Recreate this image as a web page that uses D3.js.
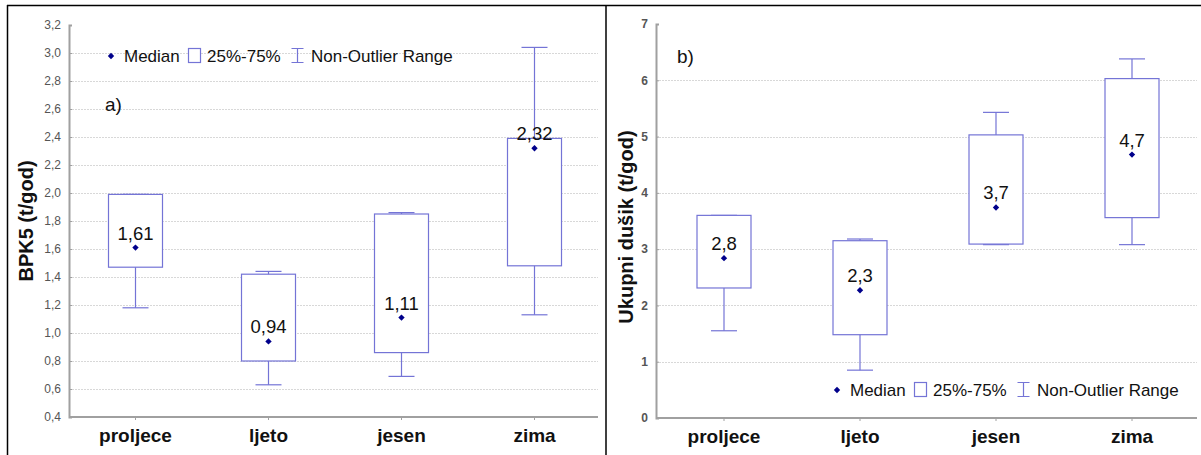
<!DOCTYPE html>
<html lang="hr">
<head>
<meta charset="UTF-8">
<title>BPK5 i ukupni dušik po sezonama</title>
<script src="https://d3js.org/d3.v7.min.js"></script>
<style>
  body { margin: 0; background: #fff; }
  svg { display: block; font-family: "Liberation Sans", Arial, sans-serif; }
</style>
</head>
<body>
<div id="chart"></div>
<script>
// categories
const seasons = ["proljece", "ljeto", "jesen", "zima"];

// a) BPK5 (t/god)
const bpkMin = [1.18, 0.63, 0.69, 1.13];
const bpkQ1  = [1.47, 0.80, 0.86, 1.48];
const bpkMed = [1.61, 0.94, 1.11, 2.32];
const bpkQ3  = [1.99, 1.42, 1.85, 2.39];
const bpkMax = [1.99, 1.44, 1.86, 3.04];
const bpkLabels = ["1,61", "0,94", "1,11", "2,32"];
const bpkTicks = [0.4, 0.6, 0.8, 1.0, 1.2, 1.4, 1.6, 1.8, 2.0, 2.2, 2.4, 2.6, 2.8, 3.0, 3.2];

// b) Ukupni dušik (t/god)
const nMin = [1.55, 0.85, 3.08, 3.08];
const nQ1  = [2.31, 1.48, 3.09, 3.56];
const nMed = [2.84, 2.27, 3.74, 4.68];
const nQ3  = [3.60, 3.15, 5.03, 6.03];
const nMax = [3.60, 3.18, 5.43, 6.38];
const nLabels = ["2,8", "2,3", "3,7", "4,7"];
const nTicks = [0, 1, 2, 3, 4, 5, 6, 7];

const legendItems = ["Median", "25%-75%", "Non-Outlier Range"];

const W = 1201, H = 455;
const boxColor = "#7474d6";
const dotColor = "#00008b";

const svg = d3.select("#chart").append("svg")
  .attr("width", W).attr("height", H);

// outer frame lines
svg.append("line").attr("x1", 7).attr("x2", W).attr("y1", 5.5).attr("y2", 5.5)
  .attr("stroke", "#000").attr("stroke-width", 1.5);
svg.append("line").attr("x1", 7.5).attr("x2", 7.5).attr("y1", 5).attr("y2", H)
  .attr("stroke", "#000").attr("stroke-width", 1.5);
svg.append("line").attr("x1", 606).attr("x2", 606).attr("y1", 5).attr("y2", H)
  .attr("stroke", "#000").attr("stroke-width", 1.5);

function drawPanel(cfg) {
  const g = svg.append("g");
  const x = d3.scaleBand().domain(seasons).range([cfg.x0, cfg.x1]);
  const y = d3.scaleLinear().domain(cfg.domain).range([cfg.yBottom, cfg.yTop]);

  // gridlines
  g.append("g").selectAll("line")
    .data(cfg.ticks.slice(1, cfg.ticks.length - 1))
    .join("line")
    .attr("x1", cfg.x0).attr("x2", cfg.x1 - 3)
    .attr("y1", d => Math.round(y(d)) + 0.5).attr("y2", d => Math.round(y(d)) + 0.5)
    .attr("stroke", "#d8d8d8").attr("stroke-dasharray", "2,1");

  // y axis
  const ya = g.append("g").attr("transform", `translate(${cfg.x0},0)`)
    .call(d3.axisLeft(y).tickValues(cfg.ticks).tickFormat(cfg.fmt).tickSize(-3).tickPadding(8));
  ya.select(".domain").attr("stroke", "#a0a0a0").attr("stroke-width", 2);
  ya.selectAll(".tick line").attr("stroke", "#a0a0a0");
  ya.selectAll(".tick text").attr("fill", "#555").style("font-size", "12px")
    .style("font-weight", cfg.tickBold ? "bold" : "normal")
    .style("font-family", "'Liberation Sans', Arial, sans-serif");

  // x axis
  const xa = g.append("g").attr("transform", `translate(0,${cfg.yBottom})`)
    .call(d3.axisBottom(x).tickSize(3).tickSizeOuter(0).tickPadding(9));
  xa.select(".domain").attr("stroke", "#a0a0a0").attr("stroke-width", 2)
    .attr("d", `M${cfg.x0},0H${cfg.x1 - 3}`);
  xa.selectAll(".tick line").attr("stroke", "#a0a0a0");
  xa.selectAll(".tick text").attr("fill", "#111").style("font-size", "19px")
    .style("font-weight", "bold")
    .style("font-family", "'Liberation Sans', Arial, sans-serif");

  const cx = d => x(d) + x.bandwidth() / 2;
  const boxW = 54, capW = 26;

  const boxes = g.append("g").selectAll("g")
    .data(seasons.map((s, i) => ({
      s, min: cfg.min[i], q1: cfg.q1[i], med: cfg.med[i], q3: cfg.q3[i], max: cfg.max[i], label: cfg.labels[i]
    })))
    .join("g");

  // whiskers
  boxes.append("line")
    .attr("x1", d => cx(d.s)).attr("x2", d => cx(d.s))
    .attr("y1", d => y(d.max)).attr("y2", d => y(d.min))
    .attr("stroke", boxColor).attr("stroke-width", 1.2);
  boxes.append("line")
    .attr("x1", d => cx(d.s) - capW / 2).attr("x2", d => cx(d.s) + capW / 2)
    .attr("y1", d => y(d.max)).attr("y2", d => y(d.max))
    .attr("stroke", boxColor).attr("stroke-width", 1.2);
  boxes.append("line")
    .attr("x1", d => cx(d.s) - capW / 2).attr("x2", d => cx(d.s) + capW / 2)
    .attr("y1", d => y(d.min)).attr("y2", d => y(d.min))
    .attr("stroke", boxColor).attr("stroke-width", 1.2);

  // boxes
  boxes.append("rect")
    .attr("x", d => cx(d.s) - boxW / 2).attr("width", boxW)
    .attr("y", d => y(d.q3)).attr("height", d => y(d.q1) - y(d.q3))
    .attr("fill", "#fff").attr("stroke", boxColor).attr("stroke-width", 1.2);

  // medians
  boxes.append("path")
    .attr("d", d3.symbol(d3.symbolDiamond2, 26))
    .attr("transform", d => `translate(${cx(d.s)},${y(d.med)})`)
    .attr("fill", dotColor);
  boxes.append("text")
    .attr("x", d => cx(d.s)).attr("y", d => y(d.med) - 8)
    .attr("text-anchor", "middle").attr("fill", "#111")
    .style("font-size", "18.5px")
    .text(d => d.label);

  // panel letter
  g.append("text").attr("x", cfg.letterX).attr("y", cfg.letterY)
    .style("font-size", "19px").attr("fill", "#111").text(cfg.letter);

  // y title
  g.append("text")
    .attr("transform", `translate(${cfg.titleX},${cfg.titleY}) rotate(-90)`)
    .attr("text-anchor", "middle")
    .style("font-size", "20px").style("font-weight", "bold").attr("fill", "#111")
    .text(cfg.title);

  // legend
  const lg = g.append("g").attr("transform", `translate(${cfg.legX},${cfg.legY})`);
  lg.append("path").attr("d", d3.symbol(d3.symbolDiamond2, 26)).attr("fill", dotColor);
  lg.append("text").attr("x", 13).attr("y", 6).style("font-size", "17px")
    .attr("fill", "#111").text(legendItems[0]);
  lg.append("rect").attr("x", 77.5).attr("y", -7.5).attr("width", 12).attr("height", 14)
    .attr("fill", "#fff").attr("stroke", boxColor).attr("stroke-width", 1.2);
  lg.append("text").attr("x", 96).attr("y", 6).style("font-size", "17px")
    .attr("fill", "#111").text(legendItems[1]);
  const bx = 186.5;
  lg.append("path")
    .attr("d", `M${bx - 6},-7.5H${bx + 6}M${bx},-7.5V6.5M${bx - 6},6.5H${bx + 6}`)
    .attr("stroke", boxColor).attr("stroke-width", 1.2).attr("fill", "none");
  lg.append("text").attr("x", 200).attr("y", 6).style("font-size", "17px")
    .attr("fill", "#111").text(legendItems[2]);
}

const commaFmt = d => d3.format(".1f")(d).replace(".", ",");

drawPanel({
  x0: 69, x1: 601, yTop: 25, yBottom: 417, domain: [0.4, 3.2],
  ticks: bpkTicks, fmt: commaFmt, tickBold: false,
  min: bpkMin, q1: bpkQ1, med: bpkMed, q3: bpkQ3, max: bpkMax, labels: bpkLabels,
  letter: "a)", letterX: 105, letterY: 111,
  title: "BPK5 (t/god)", titleX: 33, titleY: 221,
  legX: 111, legY: 56
});

drawPanel({
  x0: 656, x1: 1200, yTop: 24, yBottom: 418, domain: [0, 7],
  ticks: nTicks, fmt: d3.format("d"), tickBold: true,
  min: nMin, q1: nQ1, med: nMed, q3: nQ3, max: nMax, labels: nLabels,
  letter: "b)", letterX: 677, letterY: 63,
  title: "Ukupni dušik (t/god)", titleX: 633, titleY: 227,
  legX: 837, legY: 390
});
</script>
</body>
</html>
